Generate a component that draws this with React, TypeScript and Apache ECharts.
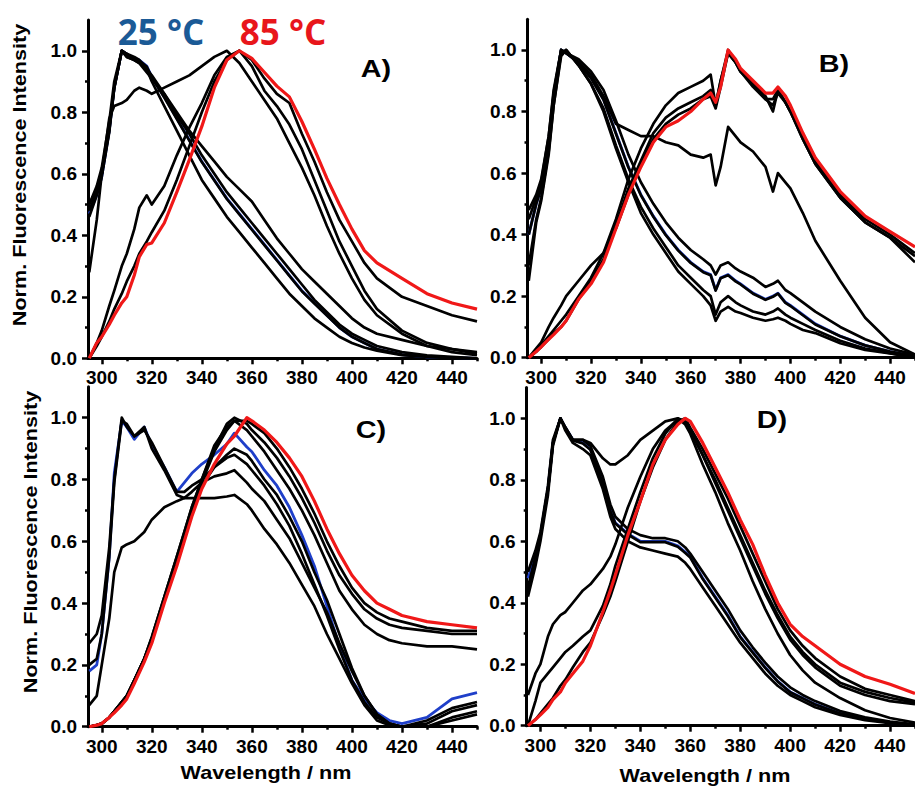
import React, { useEffect, useRef } from "react";
import * as echarts from "echarts";

// ---------- tick labels / texts ----------
const X_LABELS = [300, 320, 340, 360, 380, 400, 420, 440];
const X_MINOR = [310, 330, 350, 370, 390, 410, 430, 450];
const Y_LABELS = [0, 0.2, 0.4, 0.6, 0.8, 1.0];
const Y_MINOR = [0.1, 0.3, 0.5, 0.7, 0.9];
const PANEL_LABELS = ["A)", "B)", "C)", "D)"];
const TEMP_LABELS = ["25 °C", "85 °C"];
const Y_TITLE = "Norm. Fluorescence Intensity";
const X_TITLE = "Wavelength / nm";

// ---------- Panel A ----------
const WL_A = [295, 298, 300, 303, 305, 308, 310, 313, 315, 318, 320, 325, 330, 335, 340, 345, 350, 355, 360, 365, 370, 375, 380, 385, 390, 395, 400, 405, 410, 420, 430, 440, 450];
const A_25C = [0.47, 0.53, 0.59, 0.74, 0.88, 1.0, 0.99, 0.97, 0.97, 0.95, 0.915, 0.85, 0.78, 0.71, 0.64, 0.58, 0.52, 0.47, 0.42, 0.37, 0.32, 0.27, 0.22, 0.18, 0.14, 0.10, 0.07, 0.05, 0.03, 0.012, 0.005, 0.002, 0.0];
const A_B1 = [0.50, 0.56, 0.62, 0.77, 0.90, 1.0, 0.98, 0.97, 0.96, 0.94, 0.92, 0.86, 0.79, 0.73, 0.66, 0.60, 0.54, 0.49, 0.44, 0.39, 0.34, 0.29, 0.24, 0.19, 0.15, 0.11, 0.08, 0.06, 0.04, 0.02, 0.01, 0.005, 0.0];
const A_B2 = [0.46, 0.53, 0.59, 0.735, 0.88, 1.0, 0.99, 0.972, 0.968, 0.948, 0.913, 0.848, 0.778, 0.708, 0.638, 0.578, 0.518, 0.468, 0.418, 0.368, 0.318, 0.268, 0.218, 0.178, 0.139, 0.10, 0.07, 0.05, 0.03, 0.012, 0.005, 0.002, 0.0];
const A_B3 = [0.48, 0.54, 0.60, 0.74, 0.88, 1.0, 0.99, 0.98, 0.97, 0.94, 0.90, 0.82, 0.74, 0.66, 0.58, 0.52, 0.46, 0.41, 0.36, 0.31, 0.26, 0.21, 0.17, 0.13, 0.10, 0.07, 0.05, 0.035, 0.025, 0.01, 0.005, 0.0, 0.0];
const A_U = [0.50, 0.55, 0.60, 0.75, 0.88, 1.0, 0.98, 0.97, 0.96, 0.93, 0.91, 0.86, 0.80, 0.74, 0.69, 0.64, 0.59, 0.55, 0.51, 0.45, 0.39, 0.34, 0.29, 0.25, 0.21, 0.17, 0.13, 0.10, 0.08, 0.06, 0.04, 0.03, 0.02];
const A_P = [0.28, 0.45, 0.60, 0.78, 0.82, 0.83, 0.84, 0.87, 0.88, 0.87, 0.86, 0.88, 0.90, 0.92, 0.95, 0.98, 1.0, 0.96, 0.90, 0.84, 0.78, 0.70, 0.62, 0.53, 0.43, 0.34, 0.26, 0.19, 0.14, 0.08, 0.04, 0.02, 0.01];
const A_K3 = [0.0, 0.05, 0.09, 0.17, 0.22, 0.30, 0.34, 0.42, 0.49, 0.53, 0.50, 0.56, 0.66, 0.75, 0.83, 0.92, 0.98, 1.0, 0.95, 0.87, 0.82, 0.76, 0.68, 0.58, 0.48, 0.38, 0.30, 0.22, 0.16, 0.09, 0.05, 0.03, 0.015];
const A_K1 = [0.0, 0.04, 0.07, 0.12, 0.16, 0.21, 0.25, 0.30, 0.34, 0.38, 0.41, 0.48, 0.58, 0.69, 0.80, 0.90, 0.97, 1.0, 0.97, 0.91, 0.86, 0.83, 0.73, 0.64, 0.54, 0.45, 0.38, 0.31, 0.26, 0.20, 0.17, 0.14, 0.12];
const A_85C = [0.0, 0.05, 0.07, 0.11, 0.14, 0.18, 0.20, 0.27, 0.33, 0.37, 0.375, 0.44, 0.54, 0.645, 0.754, 0.88, 0.97, 1.0, 0.975, 0.93, 0.885, 0.85, 0.77, 0.68, 0.585, 0.50, 0.42, 0.35, 0.31, 0.26, 0.21, 0.18, 0.16];

// ---------- Panel B ----------
const WL_B = [295, 298, 300, 303, 305, 308, 310, 315, 320, 325, 330, 335, 340, 345, 350, 355, 360, 365, 368, 370, 372, 375, 378, 380, 385, 390, 393, 395, 398, 400, 405, 410, 420, 430, 440, 450];
const B_25C = [0.40, 0.50, 0.55, 0.70, 0.85, 1.0, 0.99, 0.96, 0.91, 0.84, 0.73, 0.62, 0.53, 0.46, 0.40, 0.35, 0.31, 0.28, 0.27, 0.22, 0.26, 0.27, 0.25, 0.24, 0.21, 0.19, 0.20, 0.21, 0.18, 0.17, 0.14, 0.11, 0.07, 0.04, 0.02, 0.005];
const B_HI = [0.48, 0.53, 0.58, 0.72, 0.87, 1.0, 0.99, 0.97, 0.93, 0.87, 0.77, 0.66, 0.57, 0.50, 0.44, 0.39, 0.35, 0.32, 0.30, 0.27, 0.30, 0.31, 0.29, 0.28, 0.26, 0.23, 0.24, 0.25, 0.22, 0.21, 0.18, 0.15, 0.10, 0.06, 0.03, 0.01];
const B_M2 = [0.40, 0.50, 0.55, 0.70, 0.85, 1.0, 0.99, 0.958, 0.908, 0.838, 0.728, 0.618, 0.528, 0.458, 0.398, 0.348, 0.308, 0.278, 0.268, 0.218, 0.258, 0.268, 0.248, 0.238, 0.208, 0.188, 0.198, 0.208, 0.178, 0.168, 0.138, 0.108, 0.07, 0.04, 0.02, 0.005];
const B_LO2 = [0.25, 0.44, 0.51, 0.66, 0.82, 0.98, 1.0, 0.95, 0.89, 0.81, 0.69, 0.58, 0.49, 0.42, 0.36, 0.30, 0.26, 0.22, 0.20, 0.14, 0.18, 0.20, 0.18, 0.17, 0.15, 0.14, 0.15, 0.16, 0.14, 0.13, 0.11, 0.09, 0.055, 0.03, 0.015, 0.0];
const B_LO = [0.30, 0.45, 0.52, 0.67, 0.82, 0.99, 1.0, 0.95, 0.89, 0.80, 0.68, 0.57, 0.47, 0.40, 0.34, 0.28, 0.24, 0.20, 0.17, 0.12, 0.15, 0.165, 0.15, 0.145, 0.13, 0.12, 0.125, 0.13, 0.12, 0.11, 0.09, 0.08, 0.047, 0.025, 0.014, 0.0];
const B_PL = [0.45, 0.52, 0.57, 0.72, 0.86, 1.0, 0.99, 0.96, 0.92, 0.85, 0.76, 0.74, 0.72, 0.72, 0.70, 0.69, 0.66, 0.65, 0.66, 0.56, 0.62, 0.75, 0.72, 0.70, 0.67, 0.62, 0.54, 0.60, 0.57, 0.55, 0.47, 0.38, 0.25, 0.13, 0.05, 0.01];
const B_K3 = [0.0, 0.03, 0.05, 0.10, 0.13, 0.17, 0.20, 0.25, 0.30, 0.34, 0.42, 0.53, 0.63, 0.71, 0.76, 0.79, 0.81, 0.84, 0.85, 0.81, 0.88, 0.99, 0.96, 0.93, 0.88, 0.84, 0.82, 0.86, 0.83, 0.80, 0.71, 0.63, 0.52, 0.44, 0.39, 0.31];
const B_K1 = [0.0, 0.02, 0.04, 0.07, 0.09, 0.12, 0.14, 0.20, 0.26, 0.34, 0.45, 0.58, 0.68, 0.76, 0.82, 0.86, 0.88, 0.90, 0.92, 0.82, 0.90, 1.0, 0.96, 0.93, 0.89, 0.85, 0.80, 0.87, 0.83, 0.80, 0.71, 0.63, 0.52, 0.44, 0.39, 0.33];
const B_K2 = [0.0, 0.02, 0.035, 0.06, 0.08, 0.10, 0.12, 0.19, 0.25, 0.32, 0.43, 0.55, 0.64, 0.73, 0.78, 0.81, 0.83, 0.85, 0.87, 0.82, 0.90, 0.99, 0.96, 0.93, 0.89, 0.84, 0.84, 0.87, 0.83, 0.80, 0.72, 0.64, 0.53, 0.45, 0.40, 0.34];
const B_85C = [0.0, 0.02, 0.035, 0.06, 0.075, 0.10, 0.12, 0.19, 0.24, 0.31, 0.42, 0.53, 0.62, 0.70, 0.75, 0.77, 0.80, 0.84, 0.86, 0.83, 0.88, 1.0, 0.97, 0.94, 0.90, 0.86, 0.86, 0.88, 0.85, 0.82, 0.73, 0.65, 0.54, 0.46, 0.41, 0.36];

// ---------- Panel C ----------
const WL_C = [295, 298, 300, 303, 305, 308, 310, 313, 317, 320, 325, 330, 333, 336, 340, 345, 350, 353, 358, 360, 365, 370, 375, 380, 385, 390, 395, 400, 405, 410, 415, 420, 430, 440, 450];
const C_25C = [0.18, 0.20, 0.30, 0.55, 0.82, 0.99, 0.97, 0.93, 0.97, 0.91, 0.84, 0.76, 0.79, 0.82, 0.85, 0.88, 0.915, 0.95, 0.905, 0.89, 0.83, 0.78, 0.71, 0.62, 0.52, 0.39, 0.26, 0.15, 0.09, 0.045, 0.02, 0.01, 0.03, 0.09, 0.11];
const C_B1 = [0.27, 0.30, 0.36, 0.58, 0.80, 1.0, 0.97, 0.94, 0.96, 0.92, 0.84, 0.76, 0.76, 0.78, 0.80, 0.84, 0.87, 0.88, 0.85, 0.83, 0.78, 0.72, 0.65, 0.56, 0.46, 0.36, 0.25, 0.15, 0.08, 0.03, 0.01, 0.0, 0.02, 0.06, 0.08];
const C_B2 = [0.20, 0.22, 0.30, 0.55, 0.79, 0.99, 0.98, 0.94, 0.97, 0.90, 0.83, 0.75, 0.74, 0.76, 0.79, 0.81, 0.82, 0.83, 0.79, 0.77, 0.73, 0.67, 0.61, 0.53, 0.45, 0.37, 0.27, 0.18, 0.10, 0.04, 0.01, 0.0, 0.0, 0.03, 0.05];
const C_P = [0.07, 0.10, 0.20, 0.35, 0.50, 0.58, 0.59, 0.60, 0.63, 0.67, 0.71, 0.73, 0.74, 0.74, 0.74, 0.74, 0.745, 0.75, 0.72, 0.70, 0.64, 0.59, 0.53, 0.46, 0.39, 0.30, 0.22, 0.14, 0.07, 0.02, 0.005, 0.0, 0.0, 0.02, 0.04];
const C_R1 = [0.0, 0.005, 0.01, 0.03, 0.05, 0.08, 0.10, 0.15, 0.22, 0.28, 0.41, 0.54, 0.62, 0.70, 0.78, 0.84, 0.88, 0.90, 0.88, 0.86, 0.80, 0.75, 0.68, 0.60, 0.50, 0.41, 0.30, 0.19, 0.10, 0.04, 0.01, 0.0, 0.01, 0.05, 0.07];
const C_K1 = [0.0, 0.005, 0.01, 0.03, 0.05, 0.08, 0.10, 0.15, 0.22, 0.28, 0.41, 0.54, 0.62, 0.70, 0.79, 0.89, 0.96, 0.99, 0.99, 0.98, 0.95, 0.90, 0.84, 0.77, 0.69, 0.60, 0.52, 0.45, 0.40, 0.37, 0.35, 0.34, 0.32, 0.31, 0.31];
const C_K2 = [0.0, 0.005, 0.01, 0.03, 0.05, 0.08, 0.10, 0.15, 0.22, 0.29, 0.42, 0.55, 0.63, 0.71, 0.80, 0.90, 0.98, 1.0, 0.98, 0.96, 0.92, 0.87, 0.81, 0.74, 0.66, 0.57, 0.49, 0.43, 0.38, 0.35, 0.33, 0.32, 0.31, 0.30, 0.30];
const C_K3 = [0.0, 0.005, 0.01, 0.03, 0.05, 0.08, 0.10, 0.15, 0.22, 0.29, 0.42, 0.55, 0.63, 0.71, 0.80, 0.91, 0.97, 0.99, 0.96, 0.94, 0.89, 0.83, 0.77, 0.70, 0.62, 0.53, 0.44, 0.38, 0.33, 0.30, 0.28, 0.27, 0.26, 0.26, 0.25];
const C_85C = [0.0, 0.005, 0.01, 0.03, 0.045, 0.07, 0.09, 0.14, 0.21, 0.27, 0.40, 0.52, 0.60, 0.68, 0.77, 0.85, 0.915, 0.94, 1.0, 0.99, 0.96, 0.92, 0.87, 0.81, 0.73, 0.64, 0.56, 0.49, 0.44, 0.40, 0.38, 0.36, 0.34, 0.33, 0.32];

// ---------- Panel D ----------
const WL_D = [295, 298, 300, 303, 305, 308, 310, 313, 317, 320, 325, 328, 330, 335, 340, 345, 350, 355, 358, 360, 365, 370, 375, 380, 385, 390, 395, 400, 405, 410, 420, 430, 440, 450];
const D_25C = [0.48, 0.55, 0.62, 0.77, 0.92, 1.0, 0.97, 0.93, 0.92, 0.90, 0.79, 0.70, 0.66, 0.625, 0.60, 0.60, 0.60, 0.585, 0.565, 0.55, 0.48, 0.42, 0.36, 0.29, 0.24, 0.19, 0.145, 0.11, 0.09, 0.07, 0.04, 0.022, 0.01, 0.002];
const D_B1 = [0.50, 0.57, 0.63, 0.78, 0.93, 1.0, 0.97, 0.93, 0.93, 0.91, 0.81, 0.72, 0.68, 0.64, 0.62, 0.61, 0.61, 0.60, 0.58, 0.56, 0.50, 0.44, 0.38, 0.31, 0.255, 0.205, 0.16, 0.125, 0.10, 0.08, 0.048, 0.027, 0.013, 0.004];
const D_B2 = [0.42, 0.52, 0.60, 0.75, 0.91, 1.0, 0.96, 0.92, 0.90, 0.88, 0.77, 0.68, 0.64, 0.60, 0.58, 0.57, 0.56, 0.55, 0.53, 0.51, 0.45, 0.39, 0.33, 0.27, 0.22, 0.17, 0.13, 0.10, 0.08, 0.06, 0.035, 0.018, 0.008, 0.0];
const D_B3 = [0.44, 0.54, 0.615, 0.765, 0.918, 1.0, 0.968, 0.928, 0.918, 0.898, 0.788, 0.698, 0.658, 0.622, 0.597, 0.597, 0.597, 0.582, 0.562, 0.547, 0.477, 0.417, 0.357, 0.288, 0.238, 0.188, 0.144, 0.109, 0.089, 0.069, 0.04, 0.022, 0.01, 0.002];
const D_U = [0.45, 0.55, 0.62, 0.77, 0.92, 1.0, 0.97, 0.93, 0.93, 0.92, 0.87, 0.85, 0.85, 0.88, 0.93, 0.96, 0.99, 1.0, 0.98, 0.95, 0.85, 0.76, 0.66, 0.57, 0.47, 0.38, 0.30, 0.23, 0.18, 0.14, 0.09, 0.05, 0.025, 0.01];
const D_R1 = [0.10, 0.17, 0.20, 0.29, 0.33, 0.36, 0.37, 0.40, 0.44, 0.46, 0.51, 0.55, 0.59, 0.71, 0.81, 0.90, 0.96, 0.995, 0.99, 0.96, 0.88, 0.79, 0.70, 0.61, 0.52, 0.43, 0.35, 0.28, 0.23, 0.19, 0.13, 0.10, 0.08, 0.07];
const D_R2 = [0.0, 0.08, 0.14, 0.17, 0.19, 0.22, 0.24, 0.26, 0.29, 0.31, 0.39, 0.46, 0.52, 0.64, 0.76, 0.87, 0.95, 1.0, 0.99, 0.96, 0.88, 0.80, 0.71, 0.62, 0.53, 0.44, 0.36, 0.29, 0.24, 0.20, 0.14, 0.11, 0.09, 0.075];
const D_R3 = [0.0, 0.02, 0.04, 0.07, 0.09, 0.13, 0.15, 0.19, 0.24, 0.27, 0.36, 0.42, 0.47, 0.60, 0.73, 0.84, 0.93, 0.99, 1.0, 0.97, 0.90, 0.82, 0.74, 0.65, 0.56, 0.47, 0.38, 0.31, 0.26, 0.22, 0.16, 0.12, 0.10, 0.08];
const D_85C = [0.0, 0.02, 0.035, 0.06, 0.085, 0.11, 0.14, 0.17, 0.21, 0.26, 0.37, 0.44, 0.49, 0.62, 0.73, 0.85, 0.93, 0.98, 1.0, 0.99, 0.92, 0.84, 0.76, 0.67, 0.59, 0.49, 0.40, 0.33, 0.29, 0.26, 0.20, 0.16, 0.135, 0.105];

const PANELS = [
  { wl: WL_A, blue: A_25C, blacks: [A_B1, A_B2, A_B3, A_U, A_P, A_K3, A_K1], red: A_85C },
  { wl: WL_B, blue: B_25C, blacks: [B_HI, B_M2, B_LO2, B_LO, B_PL, B_K3, B_K1, B_K2], red: B_85C },
  { wl: WL_C, blue: C_25C, blacks: [C_B1, C_B2, C_P, C_R1, C_K1, C_K2, C_K3], red: C_85C },
  { wl: WL_D, blue: D_25C, blacks: [D_B1, D_B2, D_B3, D_U, D_R1, D_R2, D_R3], red: D_85C },
];

const FONT = "'Liberation Sans', Arial, sans-serif";
const BLUE_LINE = "#1f3fc9";
const RED_LINE = "#f01818";

export default function App() {
  const ref = useRef<HTMLDivElement>(null);

  useEffect(() => {
    const el = ref.current;
    if (!el) return;
    const chart = echarts.init(el, null, { renderer: "svg" });

    const grids = [
      { left: 88, top: 20, width: 389, height: 338.3 },
      { left: 527.5, top: 19.2, width: 389, height: 338.5 },
      { left: 88, top: 386.8, width: 389, height: 339.9 },
      { left: 526.7, top: 387.6, width: 389, height: 338.1 },
    ];

    const tickStyle = { color: "#000", width: 2.5 };
    const xAxis: any[] = [];
    const yAxis: any[] = [];
    grids.forEach((_, g) => {
      xAxis.push({
        type: "value", gridIndex: g, min: 294.5, max: 450, position: "bottom",
        axisLine: { show: true, onZero: false, lineStyle: { color: "#000", width: 3 } },
        axisTick: { show: true, length: 6, customValues: X_LABELS, lineStyle: tickStyle },
        axisLabel: { customValues: X_LABELS, color: "#000", fontSize: 19, fontWeight: "bold", fontFamily: FONT, margin: 10 },
        splitLine: { show: false },
      });
      xAxis.push({
        type: "value", gridIndex: g, min: 294.5, max: 450, position: "bottom",
        axisLine: { show: false },
        axisTick: { show: true, length: 3, customValues: X_MINOR, lineStyle: tickStyle },
        axisLabel: { show: false },
        splitLine: { show: false },
      });
      yAxis.push({
        type: "value", gridIndex: g, min: 0, max: 1.1, position: "left",
        axisLine: { show: true, onZero: false, lineStyle: { color: "#000", width: 3 } },
        axisTick: { show: true, length: 6, customValues: Y_LABELS, lineStyle: tickStyle },
        axisLabel: {
          customValues: Y_LABELS, color: "#000", fontSize: 19, fontWeight: "bold", fontFamily: FONT, margin: 11,
          formatter: (v: number) => Number(v).toFixed(1),
        },
        splitLine: { show: false },
      });
      yAxis.push({
        type: "value", gridIndex: g, min: 0, max: 1.1, position: "left", offset: 0,
        axisLine: { show: false },
        axisTick: { show: true, length: 3, customValues: Y_MINOR, lineStyle: tickStyle },
        axisLabel: { show: false },
        splitLine: { show: false },
      });
    });

    const series: any[] = [];
    const mk = (wl: number[], vals: number[], g: number, color: string, width: number) => ({
      type: "line",
      xAxisIndex: g * 2,
      yAxisIndex: g * 2,
      data: wl.map((w, i) => [w, vals[i]]),
      showSymbol: false,
      symbol: "none",
      silent: true,
      clip: true,
      lineStyle: { color, width, join: "round" },
      itemStyle: { color },
    });
    PANELS.forEach((p, g) => {
      series.push(mk(p.wl, p.blue, g, BLUE_LINE, 2.8));
      p.blacks.forEach((b) => series.push(mk(p.wl, b, g, "#000", 2.7)));
      series.push(mk(p.wl, p.red, g, RED_LINE, 3.2));
    });

    const txt = (text: string, x: number, y: number, size: number, opts: any = {}) => ({
      type: "text",
      x, y,
      rotation: opts.rotation || 0,
      scaleX: opts.scaleX || 1,
      z: 100,
      style: {
        text,
        fill: opts.color || "#000",
        fontSize: size,
        fontWeight: "bold",
        fontFamily: opts.family || FONT,
        align: "center", verticalAlign: "middle",
        textAlign: "center", textVerticalAlign: "middle",
      },
    });

    const graphic = [
      txt(Y_TITLE, 19.5, 175, 18, { rotation: Math.PI / 2, scaleX: 1.2 }),
      txt(Y_TITLE, 31, 542, 18, { rotation: Math.PI / 2, scaleX: 1.2 }),
      txt(X_TITLE, 266, 773, 18, { scaleX: 1.2 }),
      txt(X_TITLE, 705, 776, 18, { scaleX: 1.2 }),
      txt(PANEL_LABELS[0], 376, 69, 24, { scaleX: 1.2 }),
      txt(PANEL_LABELS[1], 834, 64, 24, { scaleX: 1.2 }),
      txt(PANEL_LABELS[2], 371, 430, 24, { scaleX: 1.2 }),
      txt(PANEL_LABELS[3], 772, 420, 24, { scaleX: 1.2 }),
      txt(TEMP_LABELS[0], 161, 31, 35, { color: "#1b5a96", family: "'Open Sans', sans-serif" }),
      txt(TEMP_LABELS[1], 283, 31, 35, { color: "#e8161b", family: "'Open Sans', sans-serif" }),
    ];

    chart.setOption({
      animation: false,
      backgroundColor: "#fff",
      grid: grids,
      xAxis,
      yAxis,
      series,
      graphic,
    });

    return () => chart.dispose();
  }, []);

  return (
    <div
      ref={ref}
      style={{ position: "fixed", left: 0, top: 0, width: 915, height: 788 }}
    />
  );
}
